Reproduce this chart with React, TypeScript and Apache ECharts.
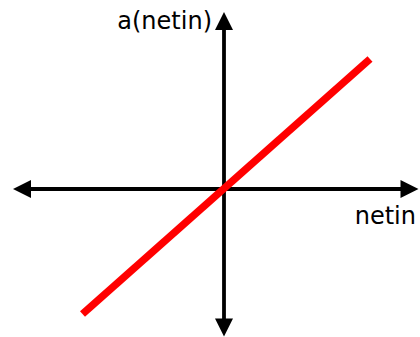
import React, { useEffect, useRef } from "react";
import * as echarts from "echarts";

// Axis ranges (no tick labels are shown in the reference)
const xRange = [-202, 185.5];
const yRange = [-138.5, 168];

// Linear activation line: endpoints
const netinValues = [-141.5, 146];
const activationValues = [-125, 130];

const xName = "netin";
const yName = "a(netin)";

export default function App() {
  const ref = useRef<HTMLDivElement>(null);

  useEffect(() => {
    document.body.style.margin = "0";
    const chart = echarts.init(ref.current!, undefined, { renderer: "svg" });
    const axisLine = {
      show: true,
      onZero: true,
      symbol: ["triangle", "triangle"],
      symbolSize: [18, 18],
      lineStyle: { color: "#000", width: 3.8 },
    };
    chart.setOption({
      animation: false,
      backgroundColor: "#fff",
      grid: { left: 22, right: 10.5, top: 21, bottom: 9.5, containLabel: false },
      xAxis: {
        type: "value",
        min: xRange[0],
        max: xRange[1],
        axisLine,
        axisTick: { show: false },
        axisLabel: { show: false },
        splitLine: { show: false },
        name: xName,
        nameLocation: "end",
        nameGap: 6.5,
        nameTextStyle: {
          fontFamily: "DejaVu Sans",
          fontSize: 24,
          color: "#000",
          align: "right",
          verticalAlign: "top",
          padding: [15, 0, 0, 0],
        },
      },
      yAxis: {
        type: "value",
        min: yRange[0],
        max: yRange[1],
        axisLine,
        axisTick: { show: false },
        axisLabel: { show: false },
        splitLine: { show: false },
        name: yName,
        nameLocation: "end",
        nameGap: 0,
        nameTextStyle: {
          fontFamily: "DejaVu Sans",
          fontSize: 24,
          color: "#000",
          align: "right",
          verticalAlign: "middle",
          padding: [0, 12, 0, 0],
        },
      },
      series: [
        {
          type: "line",
          data: netinValues.map((x, i) => [x, activationValues[i]]),
          showSymbol: false,
          lineStyle: { color: "#ff0000", width: 7.5, cap: "butt" },
          z: 5,
        },
      ],
    });
    return () => chart.dispose();
  }, []);

  return <div ref={ref} style={{ width: 420, height: 337 }} />;
}
